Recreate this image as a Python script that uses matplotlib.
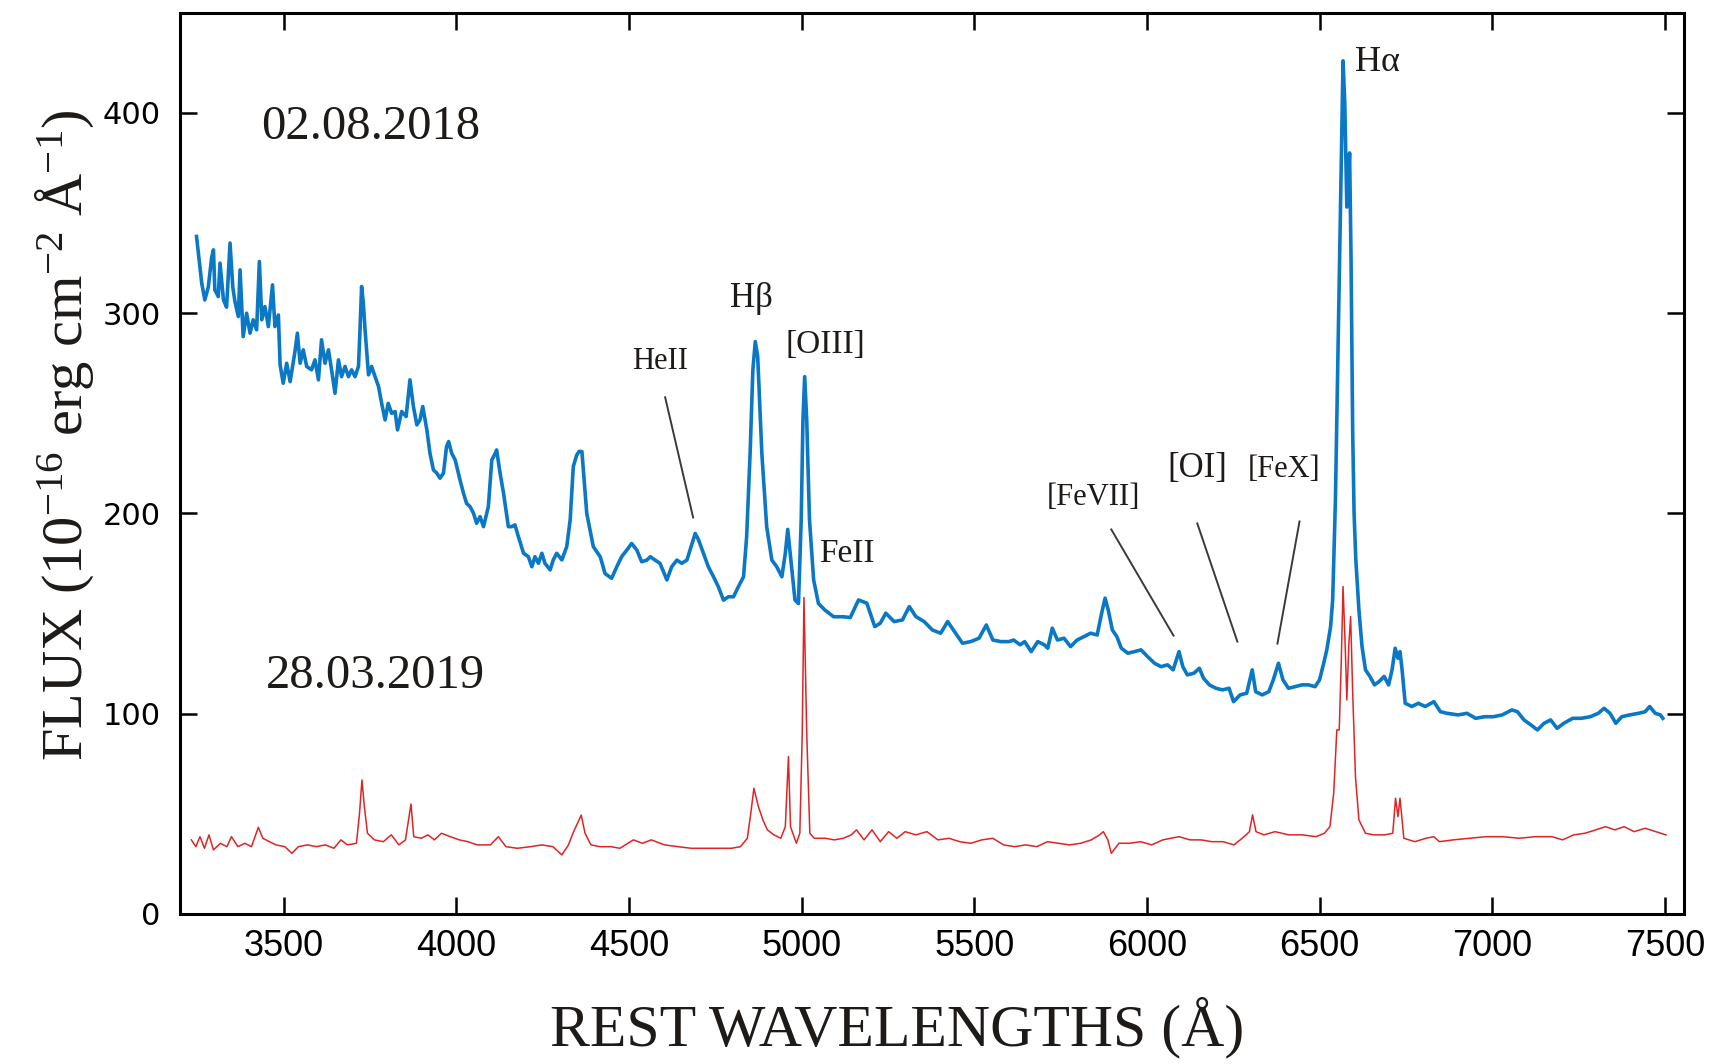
import matplotlib
matplotlib.use("Agg")
import matplotlib.pyplot as plt

# ---------------- data ----------------
blue_wave = [3248, 3258, 3263, 3272, 3282, 3292, 3297, 3301, 3311, 3316, 3326, 3335, 3345, 3353, 3359,
             3369, 3374, 3383, 3393, 3403, 3412, 3422, 3430, 3437, 3446, 3456, 3468, 3475, 3485, 3490,
             3499, 3509, 3519, 3533, 3540, 3548, 3557, 3567, 3581, 3591, 3601, 3610, 3620, 3630, 3639,
             3649, 3659, 3668, 3678, 3688, 3697, 3707, 3717, 3721, 3726, 3731, 3736, 3746, 3755, 3765,
             3775, 3784, 3794, 3803, 3813, 3823, 3830, 3842, 3855, 3866, 3876, 3886, 3895, 3903, 3915,
             3924, 3934, 3944, 3953, 3963, 3972, 3978, 3987, 3997, 4011, 4021, 4030, 4040, 4050, 4059,
             4069, 4079, 4093, 4103, 4113, 4117, 4127, 4137, 4151, 4161, 4170, 4180, 4195, 4209, 4219,
             4228, 4238, 4248, 4257, 4272, 4281, 4291, 4306, 4320, 4330, 4339, 4349, 4356, 4364, 4378,
             4397, 4417, 4431, 4450, 4465, 4479, 4494, 4508, 4523, 4537, 4552, 4562, 4576, 4590, 4610,
             4624, 4639, 4653, 4668, 4677, 4692, 4702, 4716, 4730, 4745, 4759, 4774, 4788, 4803, 4817,
             4832, 4841, 4851, 4859, 4866, 4873, 4885, 4899, 4914, 4928, 4943, 4953, 4960, 4969, 4981,
             4991, 4999, 5004, 5009, 5015, 5023, 5035, 5049, 5068, 5093, 5122, 5141, 5165, 5189, 5212,
             5228, 5244, 5268, 5292, 5312, 5331, 5355, 5379, 5403, 5423, 5443, 5466, 5490, 5514, 5535,
             5554, 5577, 5601, 5614, 5633, 5646, 5665, 5684, 5703, 5713, 5726, 5741, 5760, 5779, 5798,
             5818, 5837, 5856, 5869, 5879, 5888, 5900, 5913, 5926, 5945, 5964, 5983, 6002, 6022, 6041,
             6060, 6076, 6093, 6104, 6117, 6136, 6152, 6164, 6181, 6200, 6219, 6238, 6251, 6270, 6289,
             6305, 6315, 6334, 6353, 6366, 6381, 6394, 6410, 6429, 6449, 6468, 6487, 6500, 6512, 6521,
             6532, 6538, 6546, 6557, 6568, 6573, 6579, 6583, 6587, 6591, 6596, 6600, 6605, 6614, 6623,
             6633, 6646, 6659, 6672, 6687, 6700, 6710, 6719, 6727, 6733, 6739, 6748, 6767, 6786, 6806,
             6831, 6850, 6869, 6901, 6927, 6952, 6978, 7003, 7029, 7057, 7073, 7092, 7112, 7131, 7150,
             7169, 7188, 7207, 7233, 7258, 7284, 7307, 7324, 7341, 7358, 7375, 7398, 7424, 7443, 7456,
             7472, 7487, 7494]
blue_flux = [338.3, 323, 315, 306.6, 313, 328, 331.6, 311.6, 308.3, 325, 306.6, 303, 335, 313, 306,
             298.3, 321.6, 288.3, 300, 290, 296.7, 291.7, 325.8, 296.7, 303.3, 293.3, 314.1, 293.3, 299.1, 274.2,
             265, 275, 265.8, 280.8, 290, 275, 281.7, 273.4, 271.7, 276.7, 266.7, 286.7, 275, 281.7, 271.7,
             260, 276.7, 268.3, 273.4, 268.3, 271.7, 268.3, 273.4, 290, 313.3, 305, 291.7, 269.2, 273.4, 268.3,
             263.4, 255, 246.7, 255, 250, 250.9, 241.7, 250.9, 248.4, 266.7, 253.4, 244.2, 246.7, 253.4, 241.7,
             230, 221.7, 220.1, 217.6, 220.1, 233.4, 235.9, 230, 226.7, 216.7, 210.1, 205, 203.4, 200.1, 195.1,
             198.4, 193.4, 203.4, 226.7, 230, 231.7, 220.1, 210.1, 193.4, 193.4, 194.3, 188.4, 180.1, 178.4, 173.4,
             178.4, 175.1, 180.1, 175.1, 171.8, 176.8, 180.1, 176.8, 183.4, 196.8, 223.4, 229.2, 231, 230.9, 200,
             183.4, 178.4, 170, 167.6, 173.4, 178.4, 181.7, 185, 181.7, 175.9, 176.7, 178.4, 176.7, 175.1, 166.8,
             173.4, 176.7, 175.1, 176.7, 181.7, 190, 186.7, 180.1, 173.4, 168.4, 163.4, 156.7, 158.4, 158.4, 163.4,
             168.4, 188.4, 230, 271.6, 285.8, 278.3, 230, 193.4, 176.7, 173.4, 168.4, 180.1, 192, 176.7, 156.7,
             155, 196.7, 246.7, 268.3, 246.7, 196.7, 166.8, 155, 151.7, 148.4, 148.4, 148, 156.8, 155.2, 143.5,
             145.2, 150.2, 146, 146.8, 153.5, 148.5, 146, 141.8, 140.2, 146, 141, 135.2, 136, 137.7, 144.3,
             136.8, 136, 136, 136.8, 134.4, 136, 131, 136, 134.4, 132.7, 142.7, 136.8, 137.7, 133.5, 136.8,
             138.5, 140.2, 139.3, 150.2, 157.7, 151.8, 141.8, 138.5, 132.7, 130.2, 131, 131.9, 128.5, 125.2, 123.5,
             124.4, 121.9, 131, 123.5, 119.4, 120.2, 122.7, 117.7, 114.4, 112.7, 111.9, 112.7, 106, 109.4, 110.2,
             121.9, 111, 109.4, 111, 116.9, 125.2, 116.9, 112.7, 113.5, 114.4, 114.4, 113.5, 116.9, 125.2, 131.9,
             143.5, 156.8, 207, 316, 426, 405, 353, 365, 380, 330, 240, 200, 177, 151.8, 133.5,
             121.9, 118.6, 114.4, 116, 118.6, 114.4, 121.9, 132.7, 127.7, 131, 121.9, 105.2, 103.6, 105.2, 103.6,
             106, 101, 100.2, 99.4, 100.2, 97.7, 98.5, 98.5, 99.4, 101.9, 101, 96.9, 94.4, 91.9, 95.2,
             96.9, 92.7, 95.2, 97.7, 97.7, 98.5, 100.2, 102.7, 100.2, 95.2, 98.5, 99.4, 100.2, 101, 103.6,
             100.2, 99.4, 97.7]

red_wave = [3233, 3246, 3258, 3271, 3284, 3297, 3317, 3336, 3349, 3368, 3388, 3407, 3427, 3440, 3459,
            3478, 3504, 3524, 3543, 3569, 3595, 3621, 3646, 3666, 3685, 3711, 3720, 3727, 3734, 3743,
            3763, 3789, 3812, 3834, 3853, 3862, 3869, 3877, 3899, 3918, 3937, 3957, 3983, 4009, 4034,
            4060, 4099, 4122, 4144, 4177, 4215, 4248, 4280, 4306, 4325, 4338, 4351, 4362, 4373, 4390,
            4416, 4448, 4474, 4513, 4539, 4565, 4603, 4642, 4681, 4720, 4759, 4797, 4823, 4843, 4853,
            4862, 4875, 4888, 4901, 4920, 4940, 4953, 4962, 4968, 4985, 4995, 5002, 5007, 5015, 5024,
            5037, 5069, 5095, 5121, 5144, 5159, 5181, 5204, 5228, 5252, 5276, 5300, 5331, 5363, 5395,
            5427, 5458, 5490, 5522, 5554, 5585, 5617, 5649, 5681, 5712, 5744, 5776, 5808, 5839, 5863,
            5874, 5887, 5897, 5919, 5950, 5982, 6014, 6046, 6070, 6093, 6125, 6157, 6188, 6220, 6252,
            6276, 6297, 6306, 6316, 6339, 6371, 6411, 6450, 6490, 6514, 6530, 6541, 6550, 6557, 6563,
            6568, 6574, 6579, 6585, 6590, 6596, 6604, 6614, 6633, 6657, 6689, 6712, 6720, 6727, 6733,
            6744, 6776, 6808, 6831, 6847, 6887, 6935, 6982, 7030, 7078, 7125, 7173, 7204, 7236, 7268,
            7300, 7328, 7355, 7382, 7411, 7443, 7474, 7503]
red_flux = [37, 33.6, 38.6, 32.8, 39.5, 32, 35.3, 33.6, 38.6, 33.6, 35.3, 33.6, 43.3, 37.8, 36.1,
            34.5, 33.6, 30.3, 33.6, 34.5, 33.6, 34.5, 32.8, 37, 34.5, 35.3, 50.3, 66.9, 53.6, 40.3,
            37, 36.1, 39.5, 34.5, 37, 47, 54.9, 38.6, 37.8, 39.5, 37, 40.3, 38.6, 37, 36.1,
            34.5, 34.5, 38.6, 33.6, 32.8, 33.6, 34.5, 33.6, 29.5, 34.5, 40.3, 45.3, 49.4, 40.3, 34.5,
            33.6, 33.6, 32.8, 37, 35.3, 37, 34.5, 33.6, 32.8, 32.8, 32.8, 32.8, 33.6, 37.8, 50.3,
            62.8, 53.6, 47, 42, 39.5, 37.8, 43.6, 78.6, 43.6, 35.3, 40.3, 90.2, 158, 90, 40.3,
            37.8, 37.8, 37, 37.8, 39.5, 42, 37, 42, 36.1, 41.1, 37.8, 41.1, 39.5, 41.1, 37,
            37.8, 36.1, 35.3, 37, 37.8, 34.5, 33.6, 34.5, 33.6, 36.1, 35.3, 34.5, 35.3, 37, 39.5,
            41.1, 37, 30.3, 35.3, 35.3, 36.1, 34.5, 37, 37.8, 38.6, 37, 37, 36.1, 36.1, 34.5,
            37.8, 41.1, 49.5, 41.1, 39.5, 41.1, 39.5, 39.5, 38.6, 40.3, 43.6, 60.3, 91.9, 91.9, 126.9,
            163.5, 135.2, 106.9, 135.2, 148.5, 110.2, 68.6, 47, 40.3, 39.5, 39.5, 40.3, 57.8, 48.6, 57.8,
            37.8, 36.1, 37.8, 38.6, 36.1, 37, 37.8, 38.6, 38.6, 37.8, 38.6, 38.6, 37, 39.5, 40.3,
            42, 43.6, 42, 43.6, 41.1, 42.8, 41.1, 39.5]

x_ticks = [3500, 4000, 4500, 5000, 5500, 6000, 6500, 7000, 7500]
y_ticks = [0, 100, 200, 300, 400]

dates = ["02.08.2018", "28.03.2019"]
date_pos = [(3434, 387), (3450, 113)]

line_labels = ["HeII", "H\u03b2", "[OIII]", "FeII", "[FeVII]", "[OI]", "[FeX]", "H\u03b1"]
label_pos = [(4590, 272), (4854, 303), (5068, 280), (5132, 176),
             (5845, 204), (6146, 218), (6398, 218), (6668, 421)]
label_size = [22, 25, 24, 24, 22, 25, 22, 26]

leaders = [((4605, 258), (4686, 198)),
           ((5897, 192), (6077, 139)),
           ((6146, 195), (6262, 136)),
           ((6442, 196), (6378, 135))]

# ---------------- style ----------------
plt.rcParams['mathtext.fontset'] = 'custom'
plt.rcParams['mathtext.rm'] = 'Liberation Serif'
plt.rcParams['mathtext.it'] = 'Liberation Serif:italic'
plt.rcParams['mathtext.bf'] = 'Liberation Serif:bold'

BLUE = '#0a78c4'
RED = '#e02424'
TXT = '#1e1a18'

fig = plt.figure(figsize=(17.09, 10.64), dpi=100)
ax = fig.add_axes([0.1053, 0.141, 0.8800, 0.847])

ax.plot(blue_wave, blue_flux, color=BLUE, lw=2.6, solid_joinstyle='round', zorder=3)
ax.plot(red_wave, red_flux, color=RED, lw=1.1, zorder=2)

ax.set_xlim(3200, 7555)
ax.set_ylim(0, 450)
ax.set_xticks(x_ticks)
ax.set_yticks(y_ticks)

for s in ax.spines.values():
    s.set_linewidth(2.2)
    s.set_color('black')

ax.tick_params(axis='both', direction='in', length=12, width=1.8,
               top=True, right=True, color='black')
ax.tick_params(axis='x', pad=11)
ax.tick_params(axis='y', pad=14)
for lab in ax.get_xticklabels():
    lab.set_fontfamily('Liberation Sans')
    lab.set_fontsize(26)
for lab in ax.get_yticklabels():
    lab.set_fontfamily('DejaVu Sans')
    lab.set_fontsize(22)

# axis labels
fig.text(0.525, 0.018, "REST WAVELENGTHS (\u00c5)", ha='center', va='baseline',
         family='Liberation Serif', fontsize=43, color=TXT)
fig.text(0.048, 0.591, r"FLUX (10$^{-16}$ erg cm$^{-2}$ $\mathrm{\AA}$$^{-1}$)",
         rotation=90, rotation_mode='anchor', ha='center', va='baseline',
         family='Liberation Serif', fontsize=42, color=TXT)

# dates
for d, (x, y) in zip(dates, date_pos):
    ax.text(x, y, d, ha='left', va='baseline', family='Liberation Serif',
            fontsize=35, color=TXT)

# line labels
for t, (x, y), fs in zip(line_labels, label_pos, label_size):
    ax.text(x, y, t, ha='center', va='baseline', family='Liberation Serif',
            fontsize=fs, color=TXT)

# leader lines
for (x0, y0), (x1, y1) in leaders:
    ax.plot([x0, x1], [y0, y1], color='#3a3a3a', lw=1.4, zorder=4)

fig.savefig("out.png", dpi=100, facecolor='white')
